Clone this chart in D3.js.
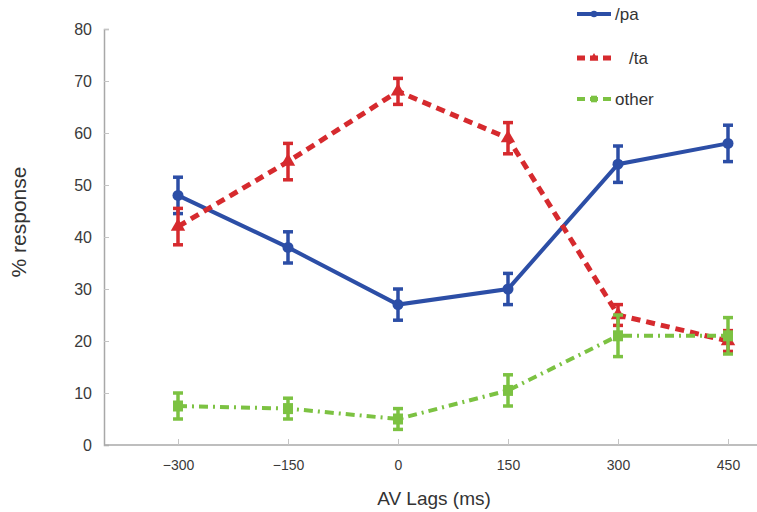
<!DOCTYPE html>
<html>
<head>
<meta charset="utf-8">
<script src="https://cdn.jsdelivr.net/npm/d3@7"></script>
<style>
  body { margin: 0; background: #fff; }
  svg { display: block; font-family: "Liberation Sans", Arial, sans-serif; }
</style>
</head>
<body>
<svg id="chart" width="757" height="512"></svg>
<script>
// data
var lags = [-300, -150, 0, 150, 300, 450];
var paValues = [48, 38, 27, 30, 54, 58];
var paErrors = [3.5, 3, 3, 3, 3.5, 3.5];
var taValues = [42, 54.5, 68, 59, 25, 20];
var taErrors = [3.5, 3.5, 2.5, 3, 2, 2];
var otherValues = [7.5, 7, 5, 10.5, 21, 21];
var otherErrors = [2.5, 2, 2, 3, 4, 3.5];
var yTicks = [0, 10, 20, 30, 40, 50, 60, 70, 80];
var seriesNames = ["/pa", "/ta", "other"];

var svg = d3.select("#chart");

var xScale = d3.scaleLinear()
    .domain([-300, 450])
    .range([178, 728]);

var yScale = d3.scaleLinear()
    .domain([0, 80])
    .range([445, 29]);

var series = [
    { name: seriesNames[0], values: paValues, errors: paErrors, color: "#2c4ea6", dash: null, width: 4, shape: "circle" },
    { name: seriesNames[1], values: taValues, errors: taErrors, color: "#d62a2e", dash: "9,6", width: 5, shape: "triangle" },
    { name: seriesNames[2], values: otherValues, errors: otherErrors, color: "#7cc242", dash: "9,5,2,5", width: 4, shape: "square" }
];

// axes
var yAxis = d3.axisLeft(yScale)
    .tickValues(yTicks)
    .tickSize(-5)
    .tickPadding(12);

var gy = svg.append("g")
    .attr("transform", "translate(104,0)")
    .call(yAxis);
gy.select(".domain").attr("stroke", "#a8a8a8").attr("stroke-width", 1.5);
gy.selectAll(".tick line").attr("stroke", "#c4c4c4");
gy.selectAll(".tick text").attr("fill", "#3a3a3a").style("font-size", "16px");

var xAxis = d3.axisBottom(xScale)
    .tickValues(lags)
    .tickSize(-6)
    .tickPadding(15)
    .tickFormat(function(d) { return d < 0 ? "\u2212" + Math.abs(d) : d; });

var gx = svg.append("g")
    .attr("transform", "translate(0,445)")
    .call(xAxis);
gx.select(".domain").attr("d", "M104,0H757").attr("stroke", "#a8a8a8").attr("stroke-width", 1.5);
gx.selectAll(".tick line").attr("stroke", "#c4c4c4");
gx.selectAll(".tick text").attr("fill", "#3a3a3a").style("font-size", "14px");

svg.append("text")
    .attr("x", 434)
    .attr("y", 505)
    .attr("text-anchor", "middle")
    .attr("fill", "#333")
    .style("font-size", "19px")
    .text("AV Lags (ms)");

svg.append("text")
    .attr("transform", "translate(26,222) rotate(-90)")
    .attr("text-anchor", "middle")
    .attr("fill", "#333")
    .style("font-size", "21px")
    .text("% response");

// lines, error bars, markers
var line = d3.line()
    .x(function(d, i) { return xScale(lags[i]); })
    .y(function(d) { return yScale(d); });

function drawMarker(g, shape, color, size) {
    if (shape === "circle") {
        g.append("circle").attr("r", size * 0.55).attr("fill", color);
    } else if (shape === "triangle") {
        g.append("path").attr("d", d3.symbol(d3.symbolTriangle, size * size * 0.9)()).attr("fill", color);
    } else {
        g.append("rect").attr("x", -size * 0.5).attr("y", -size * 0.55)
            .attr("width", size).attr("height", size * 1.1).attr("fill", color);
    }
}

series.forEach(function(s) {
    var g = svg.append("g");

    g.append("path")
        .datum(s.values)
        .attr("d", line)
        .attr("fill", "none")
        .attr("stroke", s.color)
        .attr("stroke-width", s.width)
        .attr("stroke-dasharray", s.dash);

    s.values.forEach(function(v, i) {
        var x = xScale(lags[i]);
        var top = yScale(v + s.errors[i]);
        var bot = yScale(v - s.errors[i]);
        var eb = g.append("g").attr("stroke", s.color).attr("stroke-width", 3.5);
        eb.append("line").attr("x1", x).attr("x2", x).attr("y1", top).attr("y2", bot);
        eb.append("line").attr("x1", x - 5).attr("x2", x + 5).attr("y1", top).attr("y2", top);
        eb.append("line").attr("x1", x - 5).attr("x2", x + 5).attr("y1", bot).attr("y2", bot);

        var m = g.append("g").attr("transform", "translate(" + x + "," + yScale(v) + ")");
        drawMarker(m, s.shape, s.color, 10);
    });
});

// legend
var legend = svg.append("g");
var legendY = [14, 58, 99];
series.forEach(function(s, i) {
    var ly = legendY[i];
    legend.append("line")
        .attr("x1", 577).attr("x2", 611)
        .attr("y1", ly).attr("y2", ly)
        .attr("stroke", s.color)
        .attr("stroke-width", s.width)
        .attr("stroke-dasharray", s.dash ? "8,5" : null);
    var m = legend.append("g").attr("transform", "translate(594," + ly + ")");
    drawMarker(m, s.shape, s.color, 6);
    legend.append("text")
        .attr("x", i === 1 ? 629 : 615)
        .attr("y", ly + 6)
        .attr("fill", "#333")
        .style("font-size", "17px")
        .text(s.name);
});
</script>
</body>
</html>
